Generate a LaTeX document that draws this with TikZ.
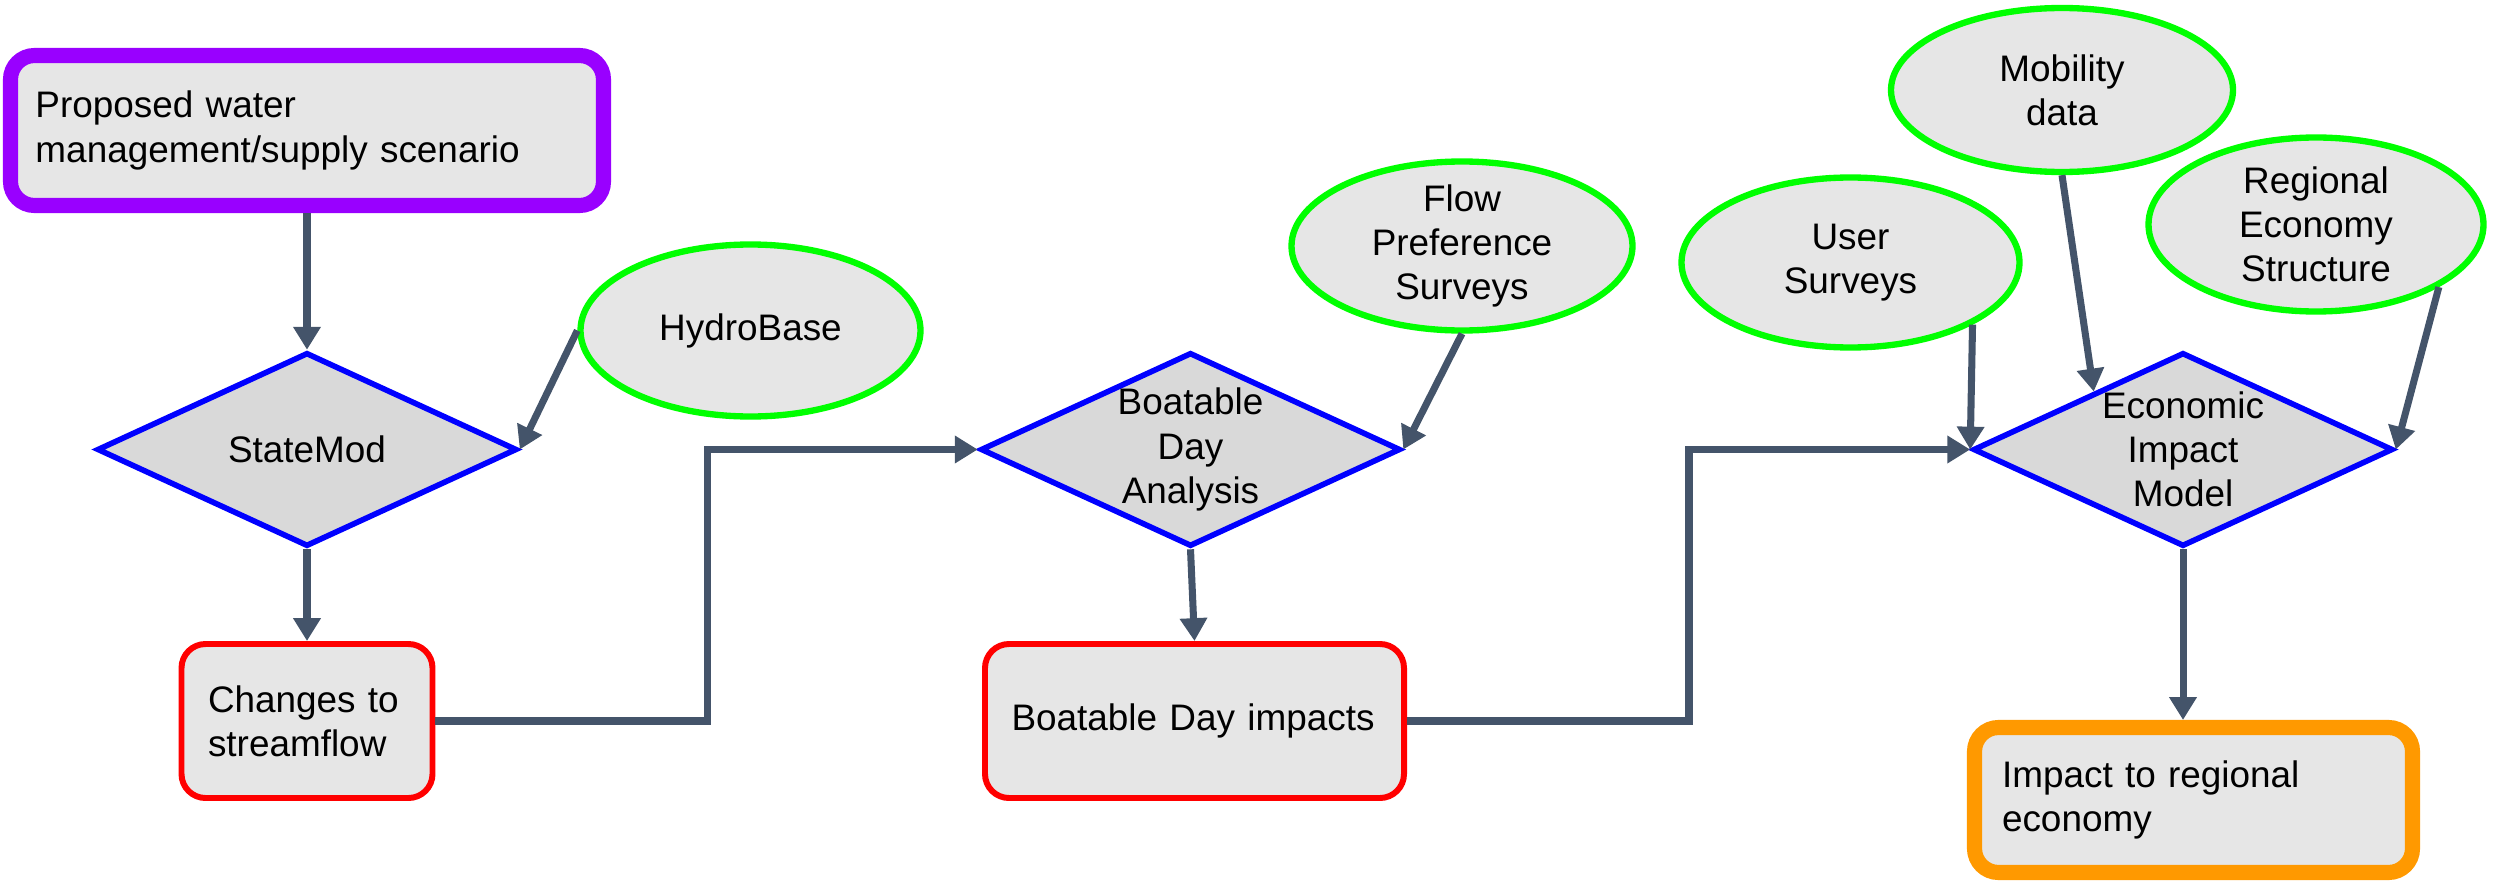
\documentclass[tikz,border=0pt]{standalone}
\usepackage{fontspec}
\setmainfont{Liberation Sans}
\usetikzlibrary{shapes.geometric,arrows.meta}
\definecolor{scenariopurple}{HTML}{9900FF}
\definecolor{resultorange}{HTML}{FF9900}
\definecolor{flowgray}{HTML}{44546A}
\definecolor{boxgray}{HTML}{E6E6E6}
\definecolor{modelgray}{HTML}{D9D9D9}
\tikzset{>={Triangle[width=7.5pt,length=6.5pt]}}
\tikzset{
	txt/.style={font=\fontsize{10.5}{12.6}\selectfont},
	box/.style={txt, draw=red, line width=1.7pt, rounded corners=0.24cm, fill=boxgray, align=left},
	model/.style={txt, draw=blue, line width=1.6pt, diamond, aspect=2.1, inner sep=-5pt, fill=modelgray, minimum width=4.2cm, minimum height=1.94cm, align=center},
	source/.style={txt, draw=green, line width=1.8pt, ellipse, inner sep=-5pt, fill=boxgray, align=center},
	flow/.style={->, draw=flowgray, line width=2pt},
}

\begin{document}
\begin{tikzpicture}
	\useasboundingbox (0,0) rectangle (24.96,8.94);
	\node [box, draw=scenariopurple, line width=4.3pt, minimum width=5.93cm, minimum height=1.5cm, text width=5.43cm] (scenario) at (3.07,7.635) {Proposed water\\management/supply scenario};
	\node [model] (statemod) at (3.07,4.445) {StateMod};
	\node [source, minimum width=3.4cm, minimum height=1.72cm] (hydro) at (7.505,5.635) {HydroBase};
	\node [box, minimum width=2.51cm, minimum height=1.54cm, text width=1.98cm] (changes) at (3.07,1.73) {Changes to\\streamflow};
	\node [model] (boat) at (11.905,4.445) {Boatable\\Day\\Analysis};
	\node [source, minimum width=3.41cm, minimum height=1.69cm] (flowpref) at (14.62,6.48) {Flow\\Preference\\Surveys};
	\node [box, minimum width=4.19cm, minimum height=1.54cm, text width=3.66cm] (boatimp) at (11.945,1.73) {Boatable Day impacts};
	\node [model] (econ) at (21.83,4.445) {Economic\\Impact\\Model};
	\node [source, minimum width=3.38cm, minimum height=1.7cm] (users) at (18.505,6.315) {User\\Surveys};
	\node [source, minimum width=3.42cm, minimum height=1.64cm] (mobility) at (20.62,8.04) {Mobility\\data};
	\node [source, minimum width=3.35cm, minimum height=1.74cm] (regional) at (23.16,6.695) {Regional\\Economy\\Structure};
	\node [box, draw=resultorange, line width=4.3pt, minimum width=4.38cm, minimum height=1.45cm, text width=3.83cm] (impact) at (21.935,0.94) {Impact to regional\\economy};
	\draw [flow] (scenario.south) -- (statemod.north);
	\draw [flow] (hydro.west) -- (statemod.east);
	\draw [flow] (statemod.south) -- (changes.north);
	\draw [flow] (changes.east) -- ++(2.72,0) |- (boat.west);
	\draw [flow] (flowpref.south) -- (boat.east);
	\draw [flow] (boat.south) -- (boatimp.north);
	\draw [flow] (boatimp.east) -- ++(2.82,0) |- (econ.west);
	\draw [flow] (users.-27) -- (econ.west);
	\draw [flow] (mobility.south) -- (econ.147);
	\draw [flow] (regional.-27) -- (econ.east);
	\draw [flow] (econ.south) -- (econ.south |- impact.north);
\end{tikzpicture}
\end{document}
